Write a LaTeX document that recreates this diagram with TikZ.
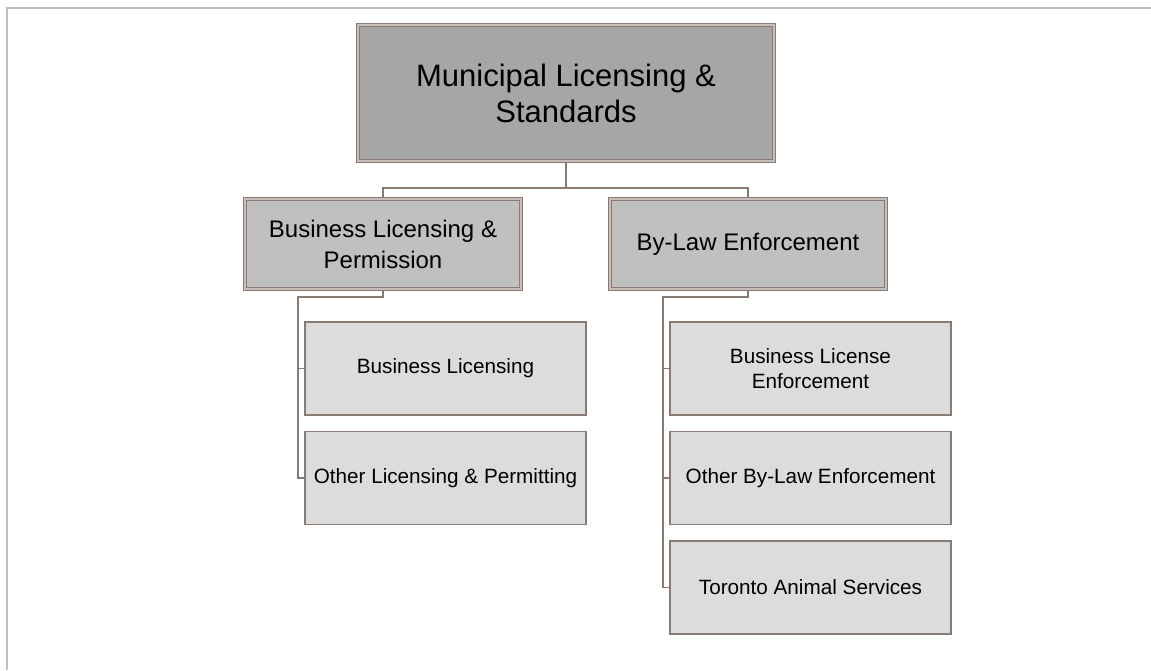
\documentclass[tikz,border=0pt]{standalone}
\usepackage{fontspec}
\setmainfont{Liberation Sans}
\definecolor{linec}{HTML}{8A7A74}
\definecolor{gapc}{HTML}{C8BEBA}
\definecolor{framec}{HTML}{BFBFBF}
\definecolor{headc}{HTML}{A6A6A6}
\definecolor{midc}{HTML}{C0C0C0}
\definecolor{unitc}{HTML}{DCDCDC}
\tikzset{
  headbox/.style={draw=linec,line width=0.6pt,double=gapc,double distance=0.8pt,
    fill=headc,minimum width=208pt,minimum height=68pt,align=center,
    font=\fontsize{15.5}{18}\selectfont},
  divbox/.style={draw=linec,line width=0.6pt,double=gapc,double distance=0.8pt,
    fill=midc,minimum width=138pt,minimum height=45pt,align=center,
    font=\fontsize{12}{15.5}\selectfont},
  unitbox/.style={draw=linec,line width=0.6pt,fill=unitc,
    minimum width=140.5pt,minimum height=46.5pt,align=center,
    font=\fontsize{10.35}{12.5}\selectfont},
  link/.style={draw=linec,line width=0.7pt}
}
\begin{document}
\begin{tikzpicture}[x=0.5pt,y=-0.5pt]
\useasboundingbox (0,0) rectangle (1151,670);
\draw[color=framec,line width=1pt] (7,670)--(7,8)--(1151,8);
% boxes
\node[headbox] (mls) at (566,93) {Municipal Licensing \&\\Standards};
\node[divbox] (blp) at (383,244) {Business Licensing \&\\Permission};
\node[divbox] (ble) at (748,244) {By-Law Enforcement};
\node[unitbox] (bl) at (445.5,368.5) {Business Licensing};
\node[unitbox] (olp) at (445.5,478) {Other Licensing \& Permitting};
\node[unitbox] (bnle) at (810.5,368.5) {Business License\\Enforcement};
\node[unitbox] (oble) at (810.5,478) {Other By-Law Enforcement};
\node[unitbox] (tas) at (810.5,587.5) {Toronto Animal Services};
% connectors
\coordinate (jn) at (566,188);
\coordinate (lj) at (298,297);
\coordinate (rj) at (663,297);
\draw[link] (mls.south)--(jn);
\draw[link] (blp.north) |- (jn) -| (ble.north);
\draw[link] (blp.south) |- (lj) |- (olp.west);
\draw[link] (lj |- bl.west)--(bl.west);
\draw[link] (ble.south) |- (rj) |- (tas.west);
\draw[link] (rj |- bnle.west)--(bnle.west);
\draw[link] (rj |- oble.west)--(oble.west);
\end{tikzpicture}
\end{document}
